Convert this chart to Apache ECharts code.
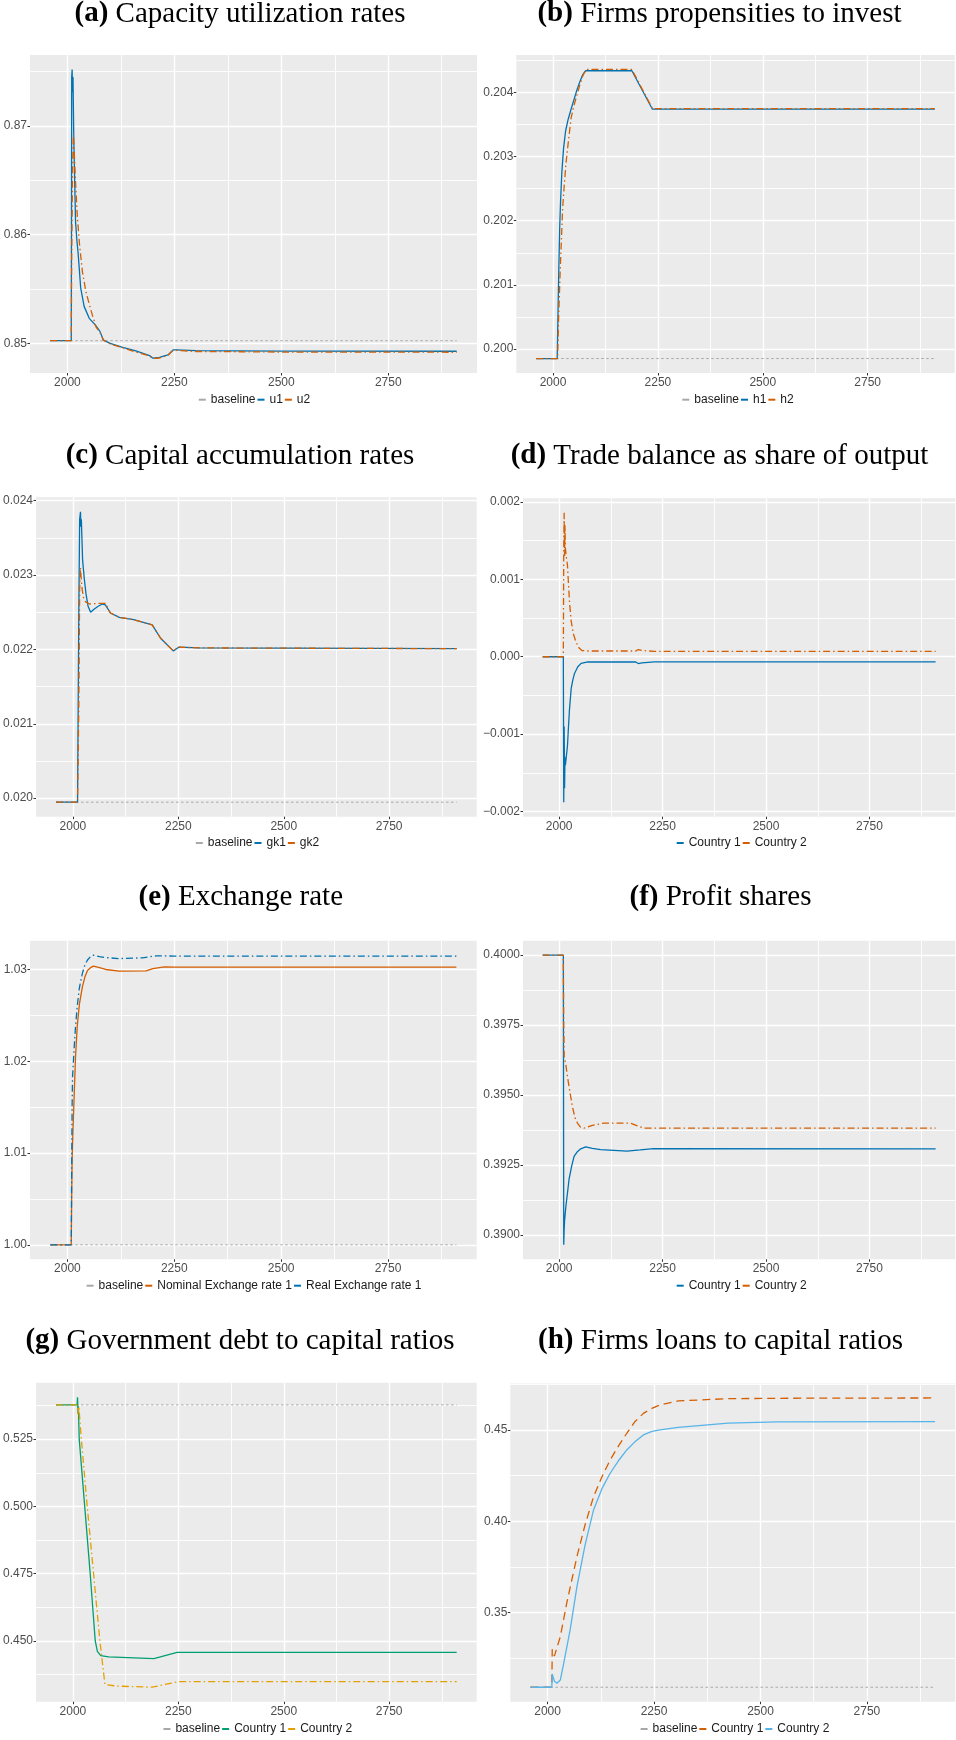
<!DOCTYPE html>
<html>
<head>
<meta charset="utf-8">
<script src="https://cdn.jsdelivr.net/npm/echarts@6/dist/echarts.min.js"></script>
<style>
html,body{margin:0;padding:0;background:#ffffff;}
#chart{width:956px;height:1740px;}
</style>
</head>
<body>
<div id="chart"></div>
<script>
// ---------------- DATA ----------------
const xTicks = [2000, 2250, 2500, 2750];
const xMinorTicks = [2125, 2375, 2625, 2875];
const baseYears = [1960, 2910];

// (a) Capacity utilization rates
const aYTicks = [0.85, 0.86, 0.87];
const aYMinor = [0.855, 0.865, 0.875];
const aBase = [0.85024, 0.85024];
const aYears_u1 = [1960, 2009, 2010, 2011, 2012, 2013, 2015, 2019, 2022, 2025, 2031, 2039, 2051, 2065, 2076, 2084, 2100, 2129, 2160, 2192, 2200, 2215, 2235, 2247, 2255, 2300, 2500, 2910];
const a_u1 = [0.85024, 0.85024, 0.8745, 0.8752, 0.8731, 0.8745, 0.8685, 0.8612, 0.8595, 0.8583, 0.8551, 0.8534, 0.8523, 0.8517, 0.8511, 0.8503, 0.8500, 0.84963, 0.8493, 0.84887, 0.84863, 0.8487, 0.84893, 0.84939, 0.8494, 0.84932, 0.84928, 0.84927];
const aYears_u2 = [1960, 2009, 2010, 2012, 2014, 2016, 2019, 2023, 2028, 2035, 2043, 2051, 2059, 2067, 2076, 2084, 2100, 2129, 2160, 2192, 2200, 2215, 2235, 2247, 2255, 2300, 2500, 2910];
const a_u2 = [0.85024, 0.85024, 0.858, 0.866, 0.8693, 0.8675, 0.8648, 0.8618, 0.8592, 0.8566, 0.8548, 0.8536, 0.8525, 0.8515, 0.8510, 0.8503, 0.84995, 0.8496, 0.8492, 0.84885, 0.8486, 0.84865, 0.8489, 0.84935, 0.84935, 0.84925, 0.8492, 0.84918];

// (b) Firms propensities to invest
const bYTicks = [0.200, 0.201, 0.202, 0.203, 0.204];
const bYMinor = [0.2005, 0.2015, 0.2025, 0.2035, 0.2045];
const bBase = [0.19985, 0.19985];
const bYears_h1 = [1960, 2010, 2012, 2014, 2016, 2018, 2021, 2025, 2030, 2036, 2043, 2050, 2057, 2064, 2071, 2078, 2188, 2237, 2910];
const b_h1 = [0.19985, 0.19985, 0.2006, 0.2013, 0.2019, 0.2023, 0.20275, 0.20312, 0.2034, 0.20358, 0.20374, 0.20389, 0.20404, 0.20417, 0.20428, 0.20434, 0.20434, 0.20374, 0.20374];
const bYears_h2 = [1960, 2011, 2013, 2015, 2017, 2020, 2023, 2027, 2031, 2036, 2043, 2050, 2057, 2064, 2071, 2078, 2188, 2237, 2910];
const b_h2 = [0.19985, 0.19985, 0.2004, 0.2008, 0.2012, 0.2017, 0.2022, 0.20257, 0.2029, 0.2032, 0.2036, 0.2038, 0.20396, 0.20412, 0.20426, 0.20436, 0.20436, 0.20375, 0.20375];

// (c) Capital accumulation rates
const cYTicks = [0.020, 0.021, 0.022, 0.023, 0.024];
const cYMinor = [0.0205, 0.0215, 0.0225, 0.0235];
const cBase = [0.019946, 0.019946];
const cYears_gk1 = [1960, 2011, 2014, 2016, 2018, 2019, 2020, 2023, 2027, 2031, 2036, 2042, 2050, 2060, 2070, 2077, 2089, 2110, 2144, 2188, 2208, 2238, 2251, 2300, 2910];
const c_gk1 = [0.019946, 0.019946, 0.0225, 0.02375, 0.02385, 0.02365, 0.02375, 0.0232, 0.02295, 0.02275, 0.02258, 0.0225, 0.02254, 0.02258, 0.02261, 0.0226, 0.02249, 0.02243, 0.0224, 0.02233, 0.02215, 0.02198, 0.02203, 0.02202, 0.02201];
const cYears_gk2 = [1960, 2011, 2014, 2016, 2018, 2021, 2025, 2030, 2040, 2060, 2077, 2089, 2110, 2144, 2188, 2208, 2238, 2251, 2300, 2910];
const c_gk2 = [0.019946, 0.019946, 0.0212, 0.0228, 0.0231, 0.02285, 0.0227, 0.02264, 0.02261, 0.02262, 0.02262, 0.02249, 0.02243, 0.0224, 0.02233, 0.02215, 0.02198, 0.02203, 0.02202, 0.02201];

// (d) Trade balance as share of output
const dYTicks = [-0.002, -0.001, 0, 0.001, 0.002];
const dYMinor = [-0.0015, -0.0005, 0.0005, 0.0015];
const dYears_c1 = [1960, 2010, 2011, 2012, 2013, 2014, 2015, 2017, 2020, 2023, 2025, 2029, 2033, 2037, 2045, 2053, 2069, 2185, 2191, 2200, 2230, 2910];
const d_c1 = [0, 0, -0.00188, -0.0009, -0.0017, -0.0013, -0.0014, -0.0013, -0.00115, -0.00085, -0.00067, -0.00041, -0.0003, -0.000216, -0.00013, -0.000086, -0.000068, -0.000068, -0.000088, -0.00008, -0.000066, -0.000066];
const dYears_c2 = [1960, 2010, 2011, 2012, 2013, 2014, 2015, 2017, 2020, 2022, 2025, 2029, 2034, 2040, 2047, 2055, 2069, 2185, 2191, 2200, 2230, 2910];
const d_c2 = [0, 0, 0.0014, 0.00186, 0.0013, 0.0017, 0.0014, 0.0013, 0.00118, 0.00098, 0.0007, 0.00046, 0.0003, 0.0002, 0.00012, 0.00008, 0.000074, 0.000074, 0.000093, 0.00008, 0.00007, 0.00007];

// (e) Exchange rate
const eYTicks = [1.00, 1.01, 1.02, 1.03];
const eYMinor = [1.005, 1.015, 1.025];
const eBase = [1.0, 1.0];
const eYears_nom = [1960, 2009, 2010, 2011, 2013, 2016, 2019, 2023, 2028, 2035, 2041, 2047, 2054, 2061, 2075, 2090, 2121, 2184, 2200, 2227, 2250, 2910];
const e_nom = [1.0, 1.0, 1.005, 1.0093, 1.0125, 1.0165, 1.0205, 1.0238, 1.0262, 1.0281, 1.0292, 1.0299, 1.0302, 1.03036, 1.0302, 1.03, 1.02982, 1.02985, 1.0301, 1.03029, 1.03025, 1.03025];
const eYears_real = [1960, 2009, 2010, 2011, 2012, 2016, 2019, 2023, 2028, 2035, 2041, 2047, 2054, 2061, 2075, 2090, 2121, 2176, 2208, 2250, 2910];
const e_real = [1.0, 1.0, 1.008, 1.015, 1.0183, 1.0216, 1.0238, 1.026, 1.028, 1.02958, 1.0305, 1.03103, 1.0314, 1.03156, 1.0314, 1.0313, 1.03119, 1.03127, 1.03149, 1.03146, 1.03145];

// (f) Profit shares
const fYTicks = [0.3900, 0.3925, 0.3950, 0.3975, 0.4000];
const fYMinor = [0.39125, 0.39375, 0.39625, 0.39875];
const fYears_c1 = [1960, 2010, 2011, 2012, 2013, 2016, 2020, 2024, 2030, 2036, 2044, 2052, 2064, 2080, 2100, 2164, 2196, 2228, 2910];
const f_c1 = [0.4, 0.4, 0.38965, 0.3902, 0.3905, 0.391, 0.3915, 0.39201, 0.39245, 0.39281, 0.39298, 0.39308, 0.39315, 0.3931, 0.39305, 0.393, 0.39304, 0.39309, 0.39308];
const fYears_c2 = [1960, 2010, 2011, 2012, 2016, 2020, 2026, 2032, 2038, 2044, 2052, 2060, 2080, 2108, 2172, 2204, 2910];
const f_c2 = [0.4, 0.4, 0.3975, 0.39638, 0.3961, 0.39566, 0.3951, 0.39459, 0.3942, 0.394, 0.39385, 0.39382, 0.39392, 0.394, 0.394, 0.39382, 0.39382];

// (g) Government debt to capital ratios
const gYTicks = [0.450, 0.475, 0.500, 0.525];
const gYMinor = [0.4375, 0.4625, 0.4875, 0.5125, 0.5375];
const gBase = [0.53774, 0.53774];
const gYears_c1 = [1960, 2010, 2011, 2012, 2013, 2015, 2028, 2041, 2053, 2058, 2066, 2085, 2192, 2247, 2910];
const g_c1 = [0.53774, 0.53774, 0.5406, 0.5345, 0.5372, 0.525, 0.5, 0.475, 0.45, 0.44614, 0.44455, 0.44405, 0.44342, 0.44576, 0.44576];
const gYears_c2 = [1960, 2010, 2011, 2012, 2014, 2020, 2034, 2049, 2064, 2076, 2105, 2188, 2250, 2910];
const g_c2 = [0.53774, 0.53774, 0.536, 0.5345, 0.5372, 0.525, 0.5, 0.475, 0.45, 0.4338, 0.4332, 0.4328, 0.43486, 0.43486];

// (h) Firms loans to capital ratios
const hYTicks = [0.35, 0.40, 0.45];
const hYMinor = [0.325, 0.375, 0.425, 0.475];
const hBase = [0.30916, 0.30916];
const hYears_c1 = [1960, 2010, 2011, 2016, 2020, 2030, 2045, 2057, 2069, 2088, 2108, 2128, 2147, 2166, 2186, 2205, 2225, 2245, 2264, 2307, 2424, 2600, 2910];
const h_c1 = [0.30916, 0.30916, 0.32996, 0.3262, 0.3256, 0.3369, 0.35515, 0.368, 0.38066, 0.398, 0.4135, 0.4245, 0.4336, 0.441, 0.4482, 0.4545, 0.4591, 0.4618, 0.4637, 0.46588, 0.46715, 0.4674, 0.46752];
const hYears_c2 = [1960, 2010, 2011, 2016, 2022, 2030, 2038, 2053, 2069, 2088, 2108, 2128, 2147, 2166, 2186, 2205, 2225, 2245, 2264, 2307, 2424, 2541, 2910];
const h_c2 = [0.30916, 0.30916, 0.31644, 0.3125, 0.31135, 0.31316, 0.3223, 0.34053, 0.36423, 0.387, 0.40622, 0.418, 0.42631, 0.433, 0.43907, 0.4435, 0.44728, 0.4492, 0.45, 0.45147, 0.4537, 0.45443, 0.4546];

// ---------------- STYLES ----------------
const BLUE = '#0072B2', ORANGE = '#D55E00', GREEN = '#009E73', YELLOW = '#E69F00', SKY = '#56B4E9', GREY = '#A8A8A8';
const DASH = { solid: 'solid', dotdash: [7, 3, 1.5, 3], dashed: [8, 5], dotted: [2.5, 2.5] };
const SERIF = 'Liberation Serif', SANS = 'Liberation Sans';
const TITLE_SIZE = 29;

const panels = [
  { key: 'a', tag: '(a)', title: 'Capacity utilization rates', yTicks: aYTicks, yMinor: aYMinor, dec: 2, series: [
    { label: 'baseline', years: baseYears, values: aBase, color: GREY, dash: 'dotted' },
    { label: 'u1', years: aYears_u1, values: a_u1, color: BLUE, dash: 'solid' },
    { label: 'u2', years: aYears_u2, values: a_u2, color: ORANGE, dash: 'dotdash' }] },
  { key: 'b', tag: '(b)', title: 'Firms propensities to invest', yTicks: bYTicks, yMinor: bYMinor, dec: 3, series: [
    { label: 'baseline', years: baseYears, values: bBase, color: GREY, dash: 'dotted' },
    { label: 'h1', years: bYears_h1, values: b_h1, color: BLUE, dash: 'solid' },
    { label: 'h2', years: bYears_h2, values: b_h2, color: ORANGE, dash: 'dotdash' }] },
  { key: 'c', tag: '(c)', title: 'Capital accumulation rates', yTicks: cYTicks, yMinor: cYMinor, dec: 3, series: [
    { label: 'baseline', years: baseYears, values: cBase, color: GREY, dash: 'dotted' },
    { label: 'gk1', years: cYears_gk1, values: c_gk1, color: BLUE, dash: 'solid' },
    { label: 'gk2', years: cYears_gk2, values: c_gk2, color: ORANGE, dash: 'dotdash' }] },
  { key: 'd', tag: '(d)', title: 'Trade balance as share of output', yTicks: dYTicks, yMinor: dYMinor, dec: 3, series: [
    { label: 'Country 1', years: dYears_c1, values: d_c1, color: BLUE, dash: 'solid' },
    { label: 'Country 2', years: dYears_c2, values: d_c2, color: ORANGE, dash: 'dotdash' }] },
  { key: 'e', tag: '(e)', title: 'Exchange rate', yTicks: eYTicks, yMinor: eYMinor, dec: 2, series: [
    { label: 'baseline', years: baseYears, values: eBase, color: GREY, dash: 'dotted' },
    { label: 'Nominal Exchange rate 1', years: eYears_nom, values: e_nom, color: ORANGE, dash: 'solid' },
    { label: 'Real Exchange rate 1', years: eYears_real, values: e_real, color: BLUE, dash: 'dotdash' }] },
  { key: 'f', tag: '(f)', title: 'Profit shares', yTicks: fYTicks, yMinor: fYMinor, dec: 4, series: [
    { label: 'Country 1', years: fYears_c1, values: f_c1, color: BLUE, dash: 'solid' },
    { label: 'Country 2', years: fYears_c2, values: f_c2, color: ORANGE, dash: 'dotdash' }] },
  { key: 'g', tag: '(g)', title: 'Government debt to capital ratios', yTicks: gYTicks, yMinor: gYMinor, dec: 3, series: [
    { label: 'baseline', years: baseYears, values: gBase, color: GREY, dash: 'dotted' },
    { label: 'Country 1', years: gYears_c1, values: g_c1, color: GREEN, dash: 'solid' },
    { label: 'Country 2', years: gYears_c2, values: g_c2, color: YELLOW, dash: 'dotdash' }] },
  { key: 'h', tag: '(h)', title: 'Firms loans to capital ratios', yTicks: hYTicks, yMinor: hYMinor, dec: 2, series: [
    { label: 'baseline', years: baseYears, values: hBase, color: GREY, dash: 'dotted' },
    { label: 'Country 1', years: hYears_c1, values: h_c1, color: ORANGE, dash: 'dashed' },
    { label: 'Country 2', years: hYears_c2, values: h_c2, color: SKY, dash: 'solid' }] }
];

// layout: grid [left, top, width, height], title [centerX, lineCenterY], legend [centerX, centerY]
const layout = {
  a: { grid: [30, 55, 447, 318], title: [240, 14], legend: [254.5, 400.7] },
  b: { grid: [516.3, 55, 438.4, 318], title: [719.5, 14], legend: [738, 400.7] },
  c: { grid: [36, 497.3, 440.7, 319.4], title: [240, 456], legend: [257.5, 844] },
  d: { grid: [523, 498.3, 432.3, 318.4], title: [719.5, 456], legend: [741.7, 844] },
  e: { grid: [30, 940.7, 446.7, 318.6], title: [240.8, 897.7], legend: [254, 1286.7] },
  f: { grid: [523, 940.7, 432.3, 318.6], title: [720.5, 897.7], legend: [741.7, 1286.7] },
  g: { grid: [36, 1382.7, 440.7, 319], title: [240, 1341], legend: [257.8, 1730] },
  h: { grid: [510.3, 1383.5, 445, 318.2], title: [720.5, 1341], legend: [735, 1730] }
};

const LEG = { iw: 7, ih: 2, gap: 2, size: 12 };
const measureCtx = document.createElement('canvas').getContext('2d');
measureCtx.font = LEG.size + 'px "' + SANS + '"';

const labelStyle = { color: '#4D4D4D', fontSize: 12, fontFamily: SANS };
const MAJOR_W = 1.4, MINOR_W = 0.9;
const option = { animation: false, backgroundColor: '#ffffff', grid: [], xAxis: [], yAxis: [], series: [], legend: [], title: [] };

panels.forEach((p, i) => {
  const L = layout[p.key];
  option.grid.push({ left: L.grid[0], top: L.grid[1], width: L.grid[2], height: L.grid[3], show: true,
    backgroundColor: '#EBEBEB', borderWidth: 0, containLabel: false, outerBoundsMode: 'none' });

  let xs = [], ys = [];
  p.series.forEach(s => { xs = xs.concat(s.years); ys = ys.concat(s.values); });
  const x0 = Math.min(...xs), x1 = Math.max(...xs), y0 = Math.min(...ys), y1 = Math.max(...ys);
  const xe = (x1 - x0) * 0.05, ye = (y1 - y0) * 0.05;
  const xmin = x0 - xe, xmax = x1 + xe, ymin = y0 - ye, ymax = y1 + ye;

  option.xAxis.push({ gridIndex: i, type: 'value', position: 'bottom', min: xmin, max: xmax,
    axisLine: { show: false, onZero: false },
    axisTick: { show: true, length: 2.5, lineStyle: { color: '#333333', width: 1 }, customValues: xTicks },
    axisLabel: Object.assign({ customValues: xTicks, margin: 3.5, formatter: v => String(Math.round(v)) }, labelStyle),
    splitLine: { show: true, lineStyle: { color: '#ffffff', width: MAJOR_W } } });
  option.xAxis.push({ gridIndex: i, type: 'value', position: 'top', min: xmin, max: xmax,
    axisLine: { show: false, onZero: false },
    axisTick: { show: true, length: 0, lineStyle: { color: 'rgba(0,0,0,0)', width: 0 }, customValues: xMinorTicks },
    axisLabel: { show: false, customValues: xMinorTicks },
    splitLine: { show: true, lineStyle: { color: '#ffffff', width: MINOR_W } } });

  option.yAxis.push({ gridIndex: i, type: 'value', position: 'left', min: ymin, max: ymax,
    axisLine: { show: false, onZero: false },
    axisTick: { show: true, length: 2.5, lineStyle: { color: '#333333', width: 1 }, customValues: p.yTicks },
    axisLabel: Object.assign({ customValues: p.yTicks, margin: 3, formatter: v => v.toFixed(p.dec).replace('-', '\u2212') }, labelStyle),
    splitLine: { show: true, lineStyle: { color: '#ffffff', width: MAJOR_W } } });
  option.yAxis.push({ gridIndex: i, type: 'value', position: 'right', min: ymin, max: ymax,
    axisLine: { show: false, onZero: false },
    axisTick: { show: true, length: 0, lineStyle: { color: 'rgba(0,0,0,0)', width: 0 }, customValues: p.yMinor },
    axisLabel: { show: false, customValues: p.yMinor },
    splitLine: { show: true, lineStyle: { color: '#ffffff', width: MINOR_W } } });

  const names = [];
  p.series.forEach((s, k) => {
    const name = p.key + '::' + s.label;
    names.push(name);
    option.series.push({ type: 'line', name: name, xAxisIndex: 2 * i, yAxisIndex: 2 * i,
      data: s.years.map((yr, j) => [yr, s.values[j]]),
      symbol: 'none', showSymbol: false, silent: true, z: 3 + k, clip: true,
      itemStyle: { color: s.color },
      lineStyle: { color: s.color, width: s.dash === 'dotted' ? 1 : 1.3, type: DASH[s.dash], cap: 'butt' } });
  });

  const legW = p.series.reduce((acc, s) => acc + LEG.iw + 5 + measureCtx.measureText(s.label).width, 0) + LEG.gap * (p.series.length - 1);
  option.legend.push({ data: names, orient: 'horizontal', left: L.legend[0] - legW / 2, top: L.legend[1] - 7,
    padding: 0, itemGap: LEG.gap, itemWidth: LEG.iw, itemHeight: LEG.ih, icon: 'rect', selectedMode: false,
    itemStyle: { borderWidth: 0 },
    formatter: nm => nm.split('::')[1],
    textStyle: { fontFamily: SANS, fontSize: LEG.size, color: '#1a1a1a' } });

  option.title.push({ text: '{b|' + p.tag + '} {n|' + p.title + '}', left: L.title[0], top: L.title[1] - 15,
    textAlign: 'center', textVerticalAlign: 'top', padding: 0,
    textStyle: { fontFamily: SERIF, fontSize: TITLE_SIZE, fontWeight: 'normal', color: '#000000', lineHeight: 30,
      rich: {
        b: { fontFamily: SERIF, fontSize: TITLE_SIZE, fontWeight: 'bold', color: '#000000', lineHeight: 30 },
        n: { fontFamily: SERIF, fontSize: TITLE_SIZE, fontWeight: 'normal', color: '#000000', lineHeight: 30 }
      } } });
});

const chart = echarts.init(document.getElementById('chart'), null, { renderer: 'canvas', width: 956, height: 1740 });
chart.setOption(option);
</script>
</body>
</html>
